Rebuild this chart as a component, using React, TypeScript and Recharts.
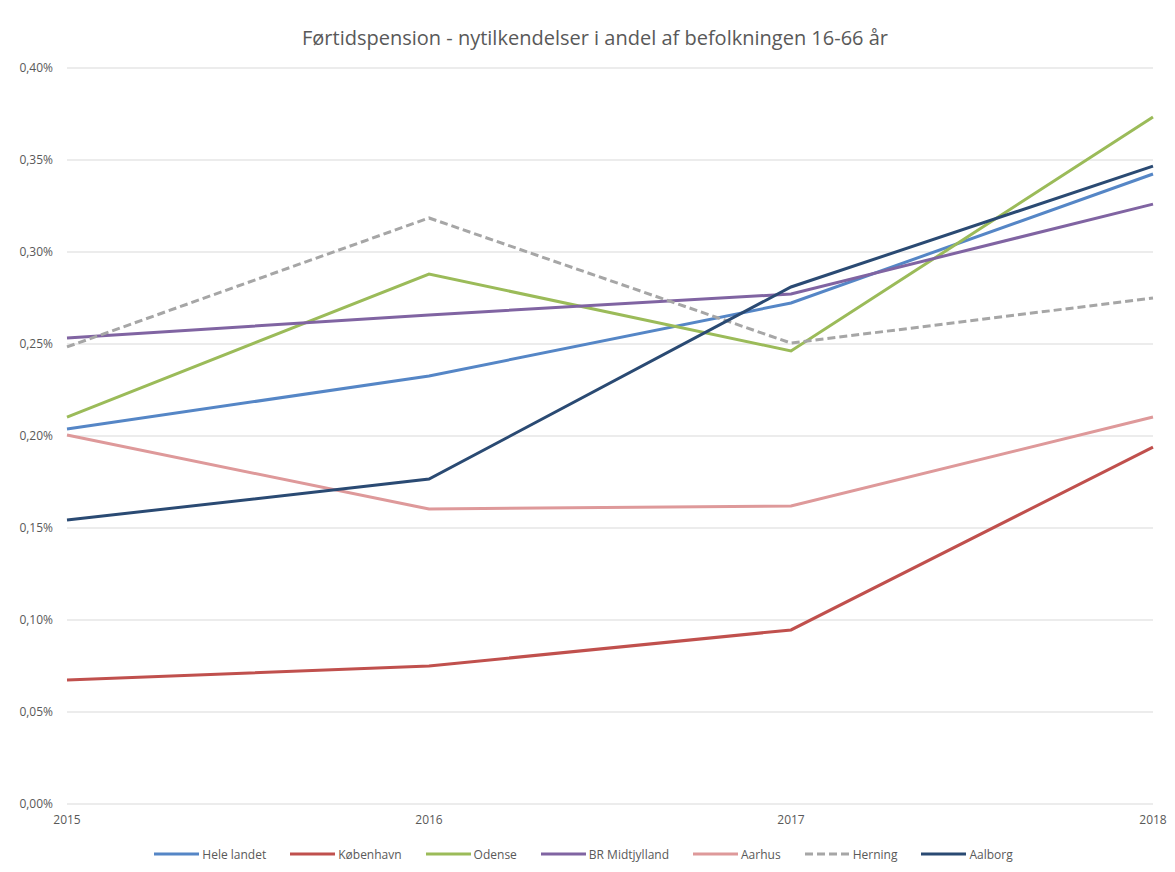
import React from "react";
import { LineChart, Line, CartesianGrid, XAxis, YAxis, Legend } from "recharts";

// år på x-aksen
const years = ["2015", "2016", "2017", "2018"];

// andel af befolkningen 16-66 år (i procent)
const heleLandet = [0.2038, 0.2326, 0.2723, 0.3424];
const koebenhavn = [0.0674, 0.075, 0.0946, 0.194];
const odense = [0.2103, 0.288, 0.2462, 0.3734];
const brMidtjylland = [0.2533, 0.2658, 0.2772, 0.326];
const aarhus = [0.2005, 0.1603, 0.162, 0.2103];
const herning = [0.2484, 0.3185, 0.2505, 0.275];
const aalborg = [0.1543, 0.1766, 0.281, 0.3467];

const yTicks = [0, 0.05, 0.1, 0.15, 0.2, 0.25, 0.3, 0.35, 0.4];

const series = [
  { key: "Hele landet", values: heleLandet, color: "#5586C6" },
  { key: "København", values: koebenhavn, color: "#C0504D" },
  { key: "Odense", values: odense, color: "#9BBB59" },
  { key: "BR Midtjylland", values: brMidtjylland, color: "#8064A2" },
  { key: "Aarhus", values: aarhus, color: "#DE999A" },
  { key: "Herning", values: herning, color: "#A6A6A6", dash: "8 4" },
  { key: "Aalborg", values: aalborg, color: "#2A4A73" },
];

const data = years.map((year, i) => {
  const row: Record<string, string | number> = { year };
  series.forEach((s) => {
    row[s.key] = s.values[i];
  });
  return row;
});

const FONT = "'Open Sans', 'Noto Sans', sans-serif";

// legend i samme rækkefølge som serierne (recharts sorterer ellers alfabetisk)
const renderLegend = () => (
  <div
    style={{
      height: 24,
      display: "flex",
      justifyContent: "center",
      alignItems: "center",
      gap: 24,
      fontSize: 12,
      fontFamily: FONT,
      color: "#595959",
      paddingLeft: 14,
    }}
  >
    {series.map((s) => (
      <div key={s.key} style={{ display: "flex", alignItems: "center", gap: 3 }}>
        <svg width={45} height={8}>
          <line
            x1={0}
            y1={4}
            x2={45}
            y2={4}
            stroke={s.color}
            strokeWidth={3}
            strokeDasharray={s.dash}
          />
        </svg>
        <span>{s.key}</span>
      </div>
    ))}
  </div>
);

export default function App() {
  return (
    <div
      style={{
        position: "absolute",
        left: 0,
        top: 0,
        width: 1175,
        height: 872,
        background: "#fff",
        fontFamily: FONT,
      }}
    >
      <div
        style={{
          position: "absolute",
          top: 24,
          left: 0,
          width: 1190,
          textAlign: "center",
          fontSize: 20,
          color: "#595959",
        }}
      >
        Førtidspension - nytilkendelser i andel af befolkningen 16-66 år
      </div>
      <LineChart
        width={1175}
        height={872}
        data={data}
        margin={{ top: 68, right: 22, bottom: 6, left: 0 }}
      >
        <CartesianGrid vertical={false} stroke="#D9D9D9" />
        <XAxis
          dataKey="year"
          axisLine={false}
          tickLine={false}
          tickMargin={5}
          height={38}
          tick={{ fill: "#595959", fontSize: 12, fontFamily: FONT }}
        />
        <YAxis
          domain={[0, 0.4]}
          ticks={yTicks}
          width={67}
          axisLine={false}
          tickLine={false}
          tickMargin={8}
          tickFormatter={(v: number) => `${v.toFixed(2).replace(".", ",")}%`}
          tick={{ fill: "#595959", fontSize: 12, fontFamily: FONT }}
        />
        <Legend verticalAlign="bottom" content={renderLegend} />
        {series.map((s) => (
          <Line
            key={s.key}
            type="linear"
            dataKey={s.key}
            stroke={s.color}
            strokeWidth={3}
            strokeDasharray={s.dash}
            dot={false}
            isAnimationActive={false}
          />
        ))}
      </LineChart>
    </div>
  );
}
